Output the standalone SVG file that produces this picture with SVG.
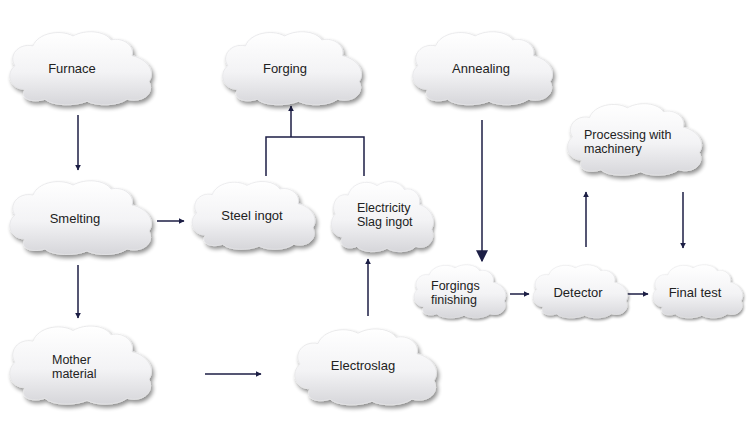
<svg xmlns="http://www.w3.org/2000/svg" xmlns:xlink="http://www.w3.org/1999/xlink" width="748" height="429" viewBox="0 0 748 429">
<defs>
<linearGradient id="cg" x1="0" y1="0" x2="0" y2="1">
<stop offset="0" stop-color="#ffffff"/>
<stop offset="0.55" stop-color="#f3f3f5"/>
<stop offset="1" stop-color="#d6d6da"/>
</linearGradient>
<filter id="sh" x="-15%" y="-15%" width="135%" height="140%">
<feGaussianBlur in="SourceAlpha" stdDeviation="2.2"/>
<feOffset dx="2" dy="3" result="b"/>
<feComponentTransfer in="b" result="s"><feFuncA type="linear" slope="0.45"/></feComponentTransfer>
<feMerge><feMergeNode in="s"/><feMergeNode in="SourceGraphic"/></feMerge>
</filter>
<path id="cloud" d="M20,62 C5,62 0,46 10,38 C3,28 13,15 28,18 C33,5 55,1 68,8 C81,1 100,3 106,12 C118,9 130,18 127,28 C142,31 151,44 144,54 C150,66 138,76 122,72 C112,79 92,79 82,74 C70,79 48,79 40,72 C28,76 14,72 20,62 Z" fill="url(#cg)" stroke="#e6e6e8" stroke-width="0.8"/>
<marker id="ah" viewBox="0 0 10 10" refX="9" refY="5" markerWidth="6" markerHeight="6" markerUnits="userSpaceOnUse" orient="auto">
<path d="M0,0 L10,5 L0,10 Z" fill="#1c1e45"/>
</marker>
<marker id="ahBig" viewBox="0 0 10 10" refX="9" refY="5" markerWidth="12" markerHeight="14" markerUnits="userSpaceOnUse" orient="auto">
<path d="M0,0 L10,5 L0,10 Z" fill="#1c1e45"/>
</marker>
</defs>
<style>
.n text{font-family:"Liberation Sans",Arial,sans-serif;font-size:13px;fill:#222;}
.n text.t2{font-size:12.5px;}
.c{stroke:#1c1e45;stroke-width:1.5;fill:none;}
.cl{filter:url(#sh);}
</style>
<rect width="748" height="429" fill="#ffffff"/>

<g id="connectors">
<line class="c" x1="78" y1="115" x2="78" y2="170" marker-end="url(#ah)"/>
<line class="c" x1="78" y1="265" x2="78" y2="318" marker-end="url(#ah)"/>
<line class="c" x1="157" y1="221" x2="184" y2="221" stroke-width="1.2" marker-end="url(#ah)"/>
<line class="c" x1="205" y1="374" x2="261" y2="374" marker-end="url(#ah)"/>
<line class="c" x1="368" y1="316" x2="368" y2="259" marker-end="url(#ah)"/>
<polyline class="c" points="266,176 266,137 364,137 364,176" stroke-width="2.2"/>
<line class="c" x1="291" y1="137" x2="291" y2="106" stroke="#5a5c70" stroke-width="1.4" marker-end="url(#ah)"/>
<line class="c" x1="482" y1="120" x2="482" y2="261" stroke-width="4.5" marker-end="url(#ahBig)"/>
<line class="c" x1="510" y1="294" x2="529" y2="294" stroke-width="1.2" marker-end="url(#ah)"/>
<line class="c" x1="627" y1="294" x2="648" y2="294" stroke-width="1.2" marker-end="url(#ah)"/>
<line class="c" x1="586" y1="247" x2="586" y2="192" marker-end="url(#ah)"/>
<line class="c" x1="683" y1="192" x2="683" y2="248" marker-end="url(#ah)"/>
</g>

<g id="furnace" class="n"><use xlink:href="#cloud" class="cl" transform="translate(5,28) scale(1,0.99)"/><text x="72" y="73" text-anchor="middle">Furnace</text></g>
<g id="forging" class="n"><use xlink:href="#cloud" class="cl" transform="translate(218,28) scale(0.98,0.99)"/><text x="285" y="73" text-anchor="middle">Forging</text></g>
<g id="annealing" class="n"><use xlink:href="#cloud" class="cl" transform="translate(408,28) scale(0.987,0.99)"/><text x="481" y="73" text-anchor="middle">Annealing</text></g>
<g id="processing" class="n"><use xlink:href="#cloud" class="cl" transform="translate(563,100) scale(0.947,0.97)"/><text class="t2" x="584" y="139">Processing with</text><text class="t2" x="584" y="153">machinery</text></g>
<g id="smelting" class="n"><use xlink:href="#cloud" class="cl" transform="translate(5,177) scale(1,1)"/><text x="75" y="223" text-anchor="middle">Smelting</text></g>
<g id="steel-ingot" class="n"><use xlink:href="#cloud" class="cl" transform="translate(188,178) scale(0.867,0.92)"/><text x="252" y="220" text-anchor="middle">Steel ingot</text></g>
<g id="electricity-slag-ingot" class="n"><use xlink:href="#cloud" class="cl" transform="translate(328,178) scale(0.72,0.95)"/><text class="t2" x="357" y="212">Electricity</text><text class="t2" x="357" y="226">Slag ingot</text></g>
<g id="forgings-finishing" class="n"><use xlink:href="#cloud" class="cl" transform="translate(411,262) scale(0.647,0.72)"/><text class="t2" x="431" y="290">Forgings</text><text class="t2" x="431" y="304">finishing</text></g>
<g id="detector" class="n"><use xlink:href="#cloud" class="cl" transform="translate(530,262) scale(0.667,0.72)"/><text x="578" y="297" text-anchor="middle">Detector</text></g>
<g id="final-test" class="n"><use xlink:href="#cloud" class="cl" transform="translate(650,262) scale(0.633,0.72)"/><text x="695" y="297" text-anchor="middle">Final test</text></g>
<g id="mother-material" class="n"><use xlink:href="#cloud" class="cl" transform="translate(5,322) scale(1,1.06)"/><text class="t2" x="52" y="364">Mother</text><text class="t2" x="52" y="378">material</text></g>
<g id="electroslag" class="n"><use xlink:href="#cloud" class="cl" transform="translate(290,325) scale(1,1.03)"/><text x="363" y="370" text-anchor="middle">Electroslag</text></g>
</svg>
